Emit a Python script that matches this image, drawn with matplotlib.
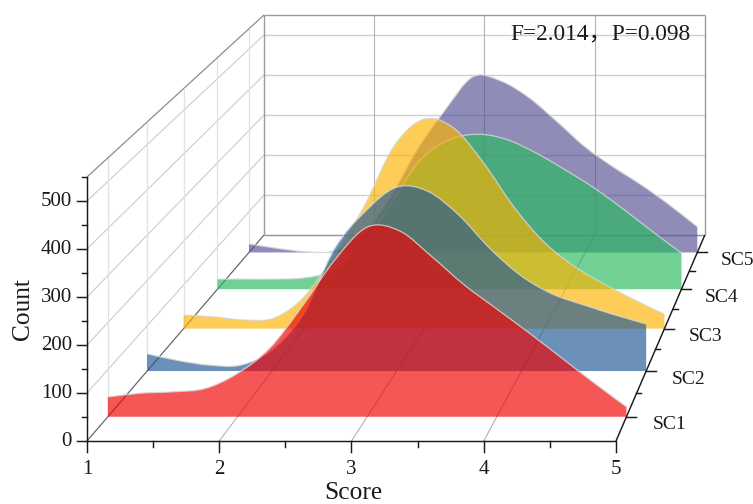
import numpy as np
import matplotlib
matplotlib.use("Agg")
import matplotlib.pyplot as plt
from matplotlib.path import Path
from matplotlib.patches import PathPatch

# ---------- data ----------
scores = [1, 1.25, 1.5, 1.75, 2, 2.25, 2.5, 2.75, 3, 3.25, 3.5, 3.75, 4, 4.25, 4.5, 4.75, 5]
sc1 = [42, 50, 53, 60, 92, 146, 235, 333, 403, 395, 340, 280, 229, 178, 125, 72, 21]
sc2 = [38, 23, 13, 13, 46, 124, 269, 353, 406, 397, 344, 270, 210, 170, 146, 124, 104]
sc3 = [31, 27, 20, 24, 72, 168, 279, 418, 480, 459, 378, 278, 198, 143, 102, 66, 33]
sc4 = [24, 24, 24, 27, 45, 105, 205, 307, 355, 368, 355, 323, 283, 240, 190, 137, 86]
sc5 = [21, 10, 2, 3, 40, 130, 252, 350, 432, 421, 380, 321, 259, 210, 166, 117, 63]
series_names = ["SC1", "SC2", "SC3", "SC4", "SC5"]
series_values = [sc1, sc2, sc3, sc4, sc5]
series_colors = ["#F00000", "#205894", "#FCB300", "#27BA5F", "#555094"]
annotation = "F=2.014，P=0.098"

# ---------- axes limits and ticks ----------
SCORE_MIN, SCORE_MAX = 1, 5
DEPTH_MIN, DEPTH_MAX = 0.5, 5.5
COUNT_MAX = 550
score_ticks = [1, 2, 3, 4, 5]
score_minor = [1.5, 2.5, 3.5, 4.5]
count_ticks = [0, 100, 200, 300, 400, 500]
count_minor = [50, 150, 250, 350, 450, 550]
depth_ticks = [1, 2, 3, 4, 5]
depth_minor = [1.5, 2.5, 3.5, 4.5]

# ---------- perspective projection onto the figure's pixel axes ----------
X0, X_SCORE = 87.0, 132.25
Y0, Y_COUNT = 441.0, 0.48
VX, VY, K = 1149.0, -795.0, 0.2


def project(score, depth, count):
    score, depth, count = (np.asarray(v, float) for v in (score, depth, count))
    d = (depth - DEPTH_MIN) / (DEPTH_MAX - DEPTH_MIN)
    s = 1.0 / (1.0 + K * d)
    fx = X0 + X_SCORE * (score - SCORE_MIN)
    fy = Y0 - Y_COUNT * count
    return VX + (fx - VX) * s, VY + (fy - VY) * s


plt.rcParams["font.family"] = ["Liberation Serif", "Noto Sans CJK SC", "DejaVu Sans"]
fig = plt.figure(figsize=(7.53, 5.04), dpi=100)
ax = fig.add_axes([0, 0, 1, 1])
ax.set_xlim(0, 753)
ax.set_ylim(504, 0)
ax.axis("off")


def seg(p, q, **kw):
    x0, y0 = project(*p)
    x1, y1 = project(*q)
    ax.plot([x0, x1], [y0, y1], solid_capstyle="butt", **kw)


# back wall and left wall grid
for c in count_ticks:
    seg((1, 5.5, c), (5, 5.5, c), color="#cfcfcf", lw=1.0, zorder=1)
    seg((1, 0.5, c), (1, 5.5, c), color="#cccccc", lw=0.8, zorder=1)
for sc in score_ticks[1:4]:
    seg((sc, 5.5, 0), (sc, 5.5, COUNT_MAX), color="#b4b4b4", lw=0.8, zorder=1)
    seg((sc, 0.5, 0), (sc, 5.5, 0), color="#a8a8a8", lw=0.7, zorder=1)
for dv in depth_ticks:
    seg((1, dv, 0), (1, dv, COUNT_MAX), color="#e2e2e2", lw=0.9, zorder=1)
frame = dict(color="#9a9a9a", lw=1.0, zorder=1.5)
seg((1, 5.5, 0), (5, 5.5, 0), **frame)
seg((1, 5.5, COUNT_MAX), (5, 5.5, COUNT_MAX), **frame)
seg((1, 5.5, 0), (1, 5.5, COUNT_MAX), **frame)
seg((5, 5.5, 0), (5, 5.5, COUNT_MAX), **frame)
seg((1, 0.5, COUNT_MAX), (1, 5.5, COUNT_MAX), color="#8c8c8c", lw=0.9, zorder=1.5)
seg((1, 0.5, 0), (1, 5.5, 0), color="#666666", lw=0.8, zorder=1.5)


def smooth_segments(px, py):
    """Bezier segments (Catmull-Rom handles) through the read points."""
    pts = np.column_stack([px, py])
    verts, codes = [], []
    for i in range(len(pts) - 1):
        p0 = pts[max(i - 1, 0)]
        p1 = pts[i]
        p2 = pts[i + 1]
        p3 = pts[min(i + 2, len(pts) - 1)]
        verts += [p1 + (p2 - p0) / 6, p2 - (p3 - p1) / 6, p2]
        codes += [Path.CURVE4] * 3
    return pts[0], verts, codes


# ribbons, back to front
order = list(range(len(series_values)))[::-1]
for i in order:
    depth = depth_ticks[i]
    px, py = project(np.array(scores), depth, np.array(series_values[i]))
    start, verts, codes = smooth_segments(px, py)
    bx0, by0 = project(SCORE_MAX, depth, 0)
    bx1, by1 = project(SCORE_MIN, depth, 0)
    fill = Path([start] + verts + [(bx0, by0), (bx1, by1), start],
                [Path.MOVETO] + codes + [Path.LINETO, Path.LINETO, Path.CLOSEPOLY])
    z = 2 + (5 - i) * 0.1
    ax.add_patch(PathPatch(fill, facecolor=series_colors[i], edgecolor="none",
                           alpha=0.66, zorder=z))
    top = Path([start] + verts, [Path.MOVETO] + codes)
    ax.add_patch(PathPatch(top, facecolor="none", edgecolor="#d6d6d6", lw=0.9,
                           alpha=0.85, zorder=z + 0.01))

# axes on top
axis = dict(color="#1a1a1a", lw=1.05, zorder=5)
seg((1, 0.5, 0), (5, 0.5, 0), **axis)
seg((1, 0.5, 0), (1, 0.5, COUNT_MAX), **axis)
seg((5, 0.5, 0), (5, 5.5, 0), **axis)

for sc in score_ticks + score_minor:
    x, y = project(sc, 0.5, 0)
    ax.plot([x, x], [y, y + (11 if sc in score_ticks else 6)], **axis)
for sc in score_ticks:
    x, y = project(sc, 0.5, 0)
    ax.text(x, y + 29, str(sc), ha="center", va="center", fontsize=15, color="#1a1a1a")

for c in count_ticks + count_minor:
    x, y = project(1, 0.5, c)
    ax.plot([x - (10 if c in count_ticks else 5), x], [y, y], **axis)
for c in count_ticks:
    x, y = project(1, 0.5, c)
    ax.text(x - 15, y, str(c), ha="right", va="center", fontsize=15, color="#1a1a1a")

for dv in depth_ticks + depth_minor:
    x, y = project(5, dv, 0)
    ax.plot([x, x + (10 if dv in depth_ticks else 5)], [y, y], **axis)
for dv, name in zip(depth_ticks, series_names):
    x, y = project(5, dv, 0)
    ax.text(x + 26.5 - 0.7 * dv, y + 8, name, ha="left", va="center", fontsize=14, color="#1a1a1a")

ax.text(353, 493, "Score", ha="center", va="center", fontsize=18.3, color="#1a1a1a")
ax.text(23, 309, "Count", ha="center", va="center", rotation=90, fontsize=18.3, color="#1a1a1a")
ax.text(510, 34, annotation, ha="left", va="center", fontsize=16.8, color="#1a1a1a", zorder=6)

fig.savefig("out.png", dpi=100)
